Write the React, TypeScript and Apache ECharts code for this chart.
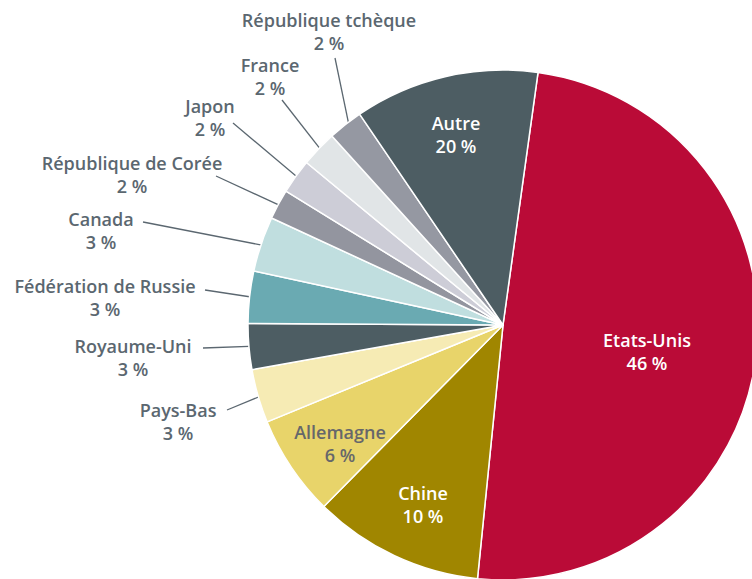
import React, { useEffect, useRef } from 'react';
import * as echarts from 'echarts';

// Categories, in clockwise order starting at the top
const countries = [
  'Etats-Unis',
  'Chine',
  'Allemagne',
  'Pays-Bas',
  'Royaume-Uni',
  'Fédération de Russie',
  'Canada',
  'République de Corée',
  'Japon',
  'France',
  'République tchèque',
  'Autre',
];

// Percentages as printed on the labels
const sharePercent = [46, 10, 6, 3, 3, 3, 3, 2, 2, 2, 2, 20];

// Slice sizes as drawn in the picture (share of the full circle, %)
const drawnShare = [49.4, 10.8, 6.4, 3.4, 2.9, 3.3, 3.5, 1.9, 2.2, 2.3, 2.2, 11.7];

// Styles
const sliceColors = [
  '#BA0B37', '#A08600', '#E8D46A', '#F6EBB4', '#4D5D63', '#6AAAB2',
  '#C0DEDF', '#93959F', '#CDCDD7', '#E1E5E7', '#9598A2', '#4D5D63',
];
const labelColors = [
  '#FFFFFF', '#FFFFFF', '#66676A', '#5B6770', '#5B6770', '#5B6770',
  '#5B6770', '#5B6770', '#5B6770', '#5B6770', '#5B6770', '#FFFFFF',
];

// Layout: label centres and leader-line start points (near the label)
const labelCenters: [number, number][] = [
  [647, 351], [423, 504], [340, 443], [178, 421], [133, 357], [105, 297],
  [101, 230], [132, 174], [210, 117], [270, 76], [329, 31], [456, 134],
];
const leaderStarts: ([number, number] | null)[] = [
  null, null, null, [227, 410], [203, 348], [205, 290],
  [143, 222], [216, 176], [233, 123], [282, 100], [335, 58], null,
];

const CX = 503;
const CY = 325;
const R = 255;
const START_ANGLE = 82.1;

export default function App() {
  const ref = useRef<HTMLDivElement>(null);
  useEffect(() => {
    if (!ref.current) return;
    const chart = echarts.init(ref.current, null, { renderer: 'svg' });
    chart.setOption({
      animation: false,
      backgroundColor: '#ffffff',
      series: [
        {
          type: 'pie',
          center: [CX, CY],
          radius: [0, R],
          startAngle: START_ANGLE,
          clockwise: true,
          avoidLabelOverlap: false,
          emphasis: { disabled: true },
          itemStyle: { borderColor: '#ffffff', borderWidth: 1.5 },
          label: {
            show: true,
            position: 'outside',
            formatter: (p: any) => `${p.name}\n${sharePercent[p.dataIndex]} %`,
            fontFamily: 'Open Sans',
            fontSize: 18,
            fontWeight: 600,
            lineHeight: 23,
            color: '#5B6770',
            align: 'center',
          },
          labelLine: {
            show: true,
            length: 10,
            length2: 10,
            lineStyle: { color: '#5B6770', width: 1.3 },
          },
          labelLayout: (params: any) => {
            const i = params.dataIndex;
            const [x, y] = labelCenters[i];
            const out: any = { x, y, align: 'center', verticalAlign: 'middle' };
            const s = leaderStarts[i];
            if (s && params.labelLinePoints) {
              const p0 = params.labelLinePoints[0];
              const dx = p0[0] - CX;
              const dy = p0[1] - CY;
              const d = Math.hypot(dx, dy) || 1;
              out.labelLinePoints = [s, [CX + (dx / d) * R * 0.97, CY + (dy / d) * R * 0.97]];
            }
            return out;
          },
          data: countries.map((name, i) => ({
            name,
            value: drawnShare[i],
            itemStyle: { color: sliceColors[i] },
            label: { color: labelColors[i] },
            labelLine: { show: leaderStarts[i] !== null },
          })),
        },
      ],
    });
    return () => chart.dispose();
  }, []);
  return (
    <div
      ref={ref}
      style={{ position: 'absolute', left: 0, top: 0, width: 752, height: 579 }}
    />
  );
}
